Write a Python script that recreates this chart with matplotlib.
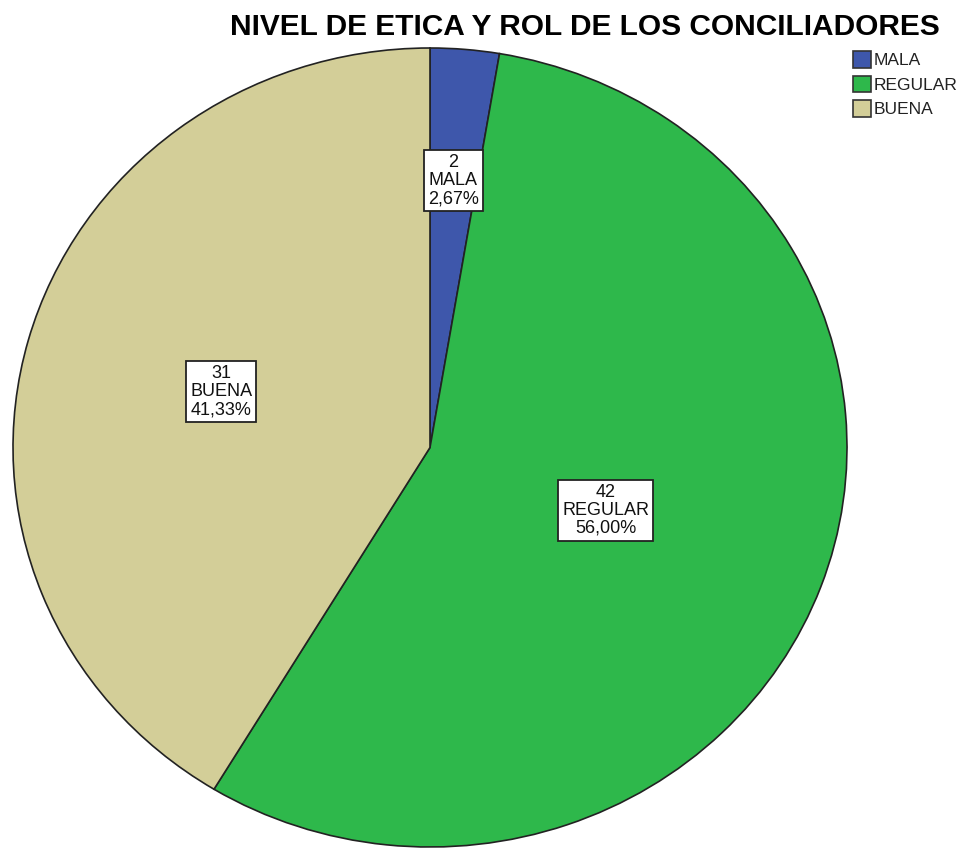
import matplotlib.pyplot as plt
import numpy as np
from matplotlib.patches import Patch

plt.rcParams['font.family'] = ['Liberation Sans', 'DejaVu Sans']

categories = ['MALA', 'REGULAR', 'BUENA']
counts = [2, 42, 31]
percents = ['2,67%', '56,00%', '41,33%']
colors = ['#3e57ab', '#2eb84b', '#d3ce98']
label_radius = [0.67, 0.45, 0.52]  # where SPSS puts each box

fig = plt.figure(figsize=(9.68, 8.49), dpi=100)
# pie is slightly wider than tall in the original, so use auto aspect
ax = fig.add_axes([13 / 968, 1 - 847 / 849, 834 / 968, 799 / 849])

wedges, _ = ax.pie(counts, colors=colors, startangle=90, counterclock=False,
                   radius=1, wedgeprops=dict(edgecolor='#222222', linewidth=1.2))
ax.set_aspect('auto')
ax.set_xlim(-1, 1)
ax.set_ylim(-1, 1)
ax.axis('off')

for w, n, cat, pct, r in zip(wedges, counts, categories, percents, label_radius):
    ang = np.deg2rad((w.theta1 + w.theta2) / 2)
    ax.text(r * np.cos(ang), r * np.sin(ang), f'{n}\n{cat}\n{pct}',
            ha='center', va='center', fontsize=13, color='#111111', linespacing=1.08,
            bbox=dict(boxstyle='square,pad=0.22', facecolor='white',
                      edgecolor='#222222', linewidth=1.3))

fig.text(585 / 968, 1 - 27 / 849, 'NIVEL DE ETICA Y ROL DE LOS CONCILIADORES',
         ha='center', va='center', fontsize=21.5, fontweight='bold')

handles = [Patch(facecolor=c, edgecolor='#333333', linewidth=1.2) for c in colors]
fig.legend(handles, categories, loc='upper left', bbox_to_anchor=(853 / 968, 1 - 51 / 849),
           frameon=False, fontsize=12.5, handlelength=1.05, handleheight=1.1,
           handletextpad=0.15, labelspacing=0.42, borderpad=0.0, borderaxespad=0.0,
           labelcolor='#222222')

fig.savefig('out.png', dpi=100)
